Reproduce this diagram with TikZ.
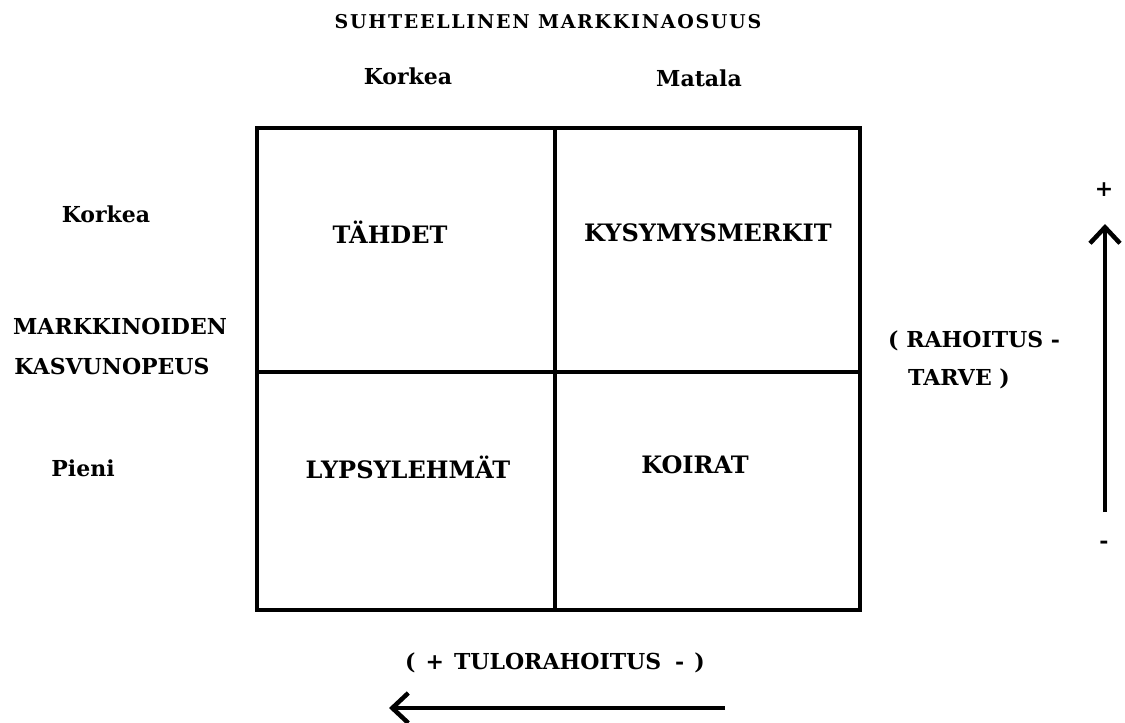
\documentclass[tikz,border=0pt]{standalone}
\usepackage{fontspec}
\setmainfont{DejaVu Serif}
\newfontfamily\titlefont[LetterSpace=9]{DejaVu Serif}
\usetikzlibrary{arrows.meta}
\begin{document}
\begin{tikzpicture}[x=1pt,y=-1pt,
  boxlbl/.style={font=\bfseries\fontsize{24}{28}\selectfont, inner sep=0pt},
  sidelbl/.style={font=\bfseries\fontsize{22}{26}\selectfont, inner sep=0pt},
  titlelbl/.style={font=\titlefont\bfseries\fontsize{19}{22}\selectfont, inner sep=0pt},
  grid/.style={line width=4pt},
  bigarrow/.style={line width=4.5pt, -{Straight Barb[length=16pt,width=30pt]}}
]
\useasboundingbox (0,0) rectangle (1125,723);
% matrix
\draw[grid] (257,128) rectangle (860,610);
\coordinate (vt) at (555,128);
\coordinate (vb) at (555,610);
\coordinate (hl) at (257,372);
\coordinate (hr) at (860,372);
\draw[grid] (vt) -- (vb);
\draw[grid] (hl) -- (hr);
% top labels
\node[titlelbl] (title) at (548,22) {SUHTEELLINEN MARKKINAOSUUS};
\node[sidelbl] (korkeaT) at (408,76) {Korkea};
\node[sidelbl] (matala) at (699,78) {Matala};
% cell labels
\node[boxlbl] (tahdet) at (390,232) {TÄHDET};
\node[boxlbl] (kysy) at (708,233) {KYSYMYSMERKIT};
\node[boxlbl] (lypsy) at (408,467) {LYPSYLEHMÄT};
\node[boxlbl] (koirat) at (695,465) {KOIRAT};
% left labels
\node[sidelbl] (korkeaL) at (106,214) {Korkea};
\node[sidelbl] (mark) at (120,326) {MARKKINOIDEN};
\node[sidelbl] (kasvu) at (112,366) {KASVUNOPEUS};
\node[sidelbl] (pieni) at (83,468) {Pieni};
% right labels
\node[sidelbl, anchor=west] (rah) at (888,341) {( RAHOITUS -};
\node[sidelbl, anchor=west] (tarve) at (908,379) {TARVE )};
\node[sidelbl] (plus) at (1104,190) {+};
\node[sidelbl] (minus) at (1104,545) {-};
\coordinate (vstart) at (1105,512);
\coordinate (vend) at (1105,224);
\draw[bigarrow] (vstart) -- (vend);
% bottom
\node[sidelbl] (tulo) at (555,663) {(\hspace{10pt}+\hspace{10pt}TULORAHOITUS\hspace{14pt}-\hspace{10pt})};
\coordinate (hstart) at (725,708);
\coordinate (hend) at (389,708);
\draw[bigarrow] (hstart) -- (hend);
\end{tikzpicture}
\end{document}
